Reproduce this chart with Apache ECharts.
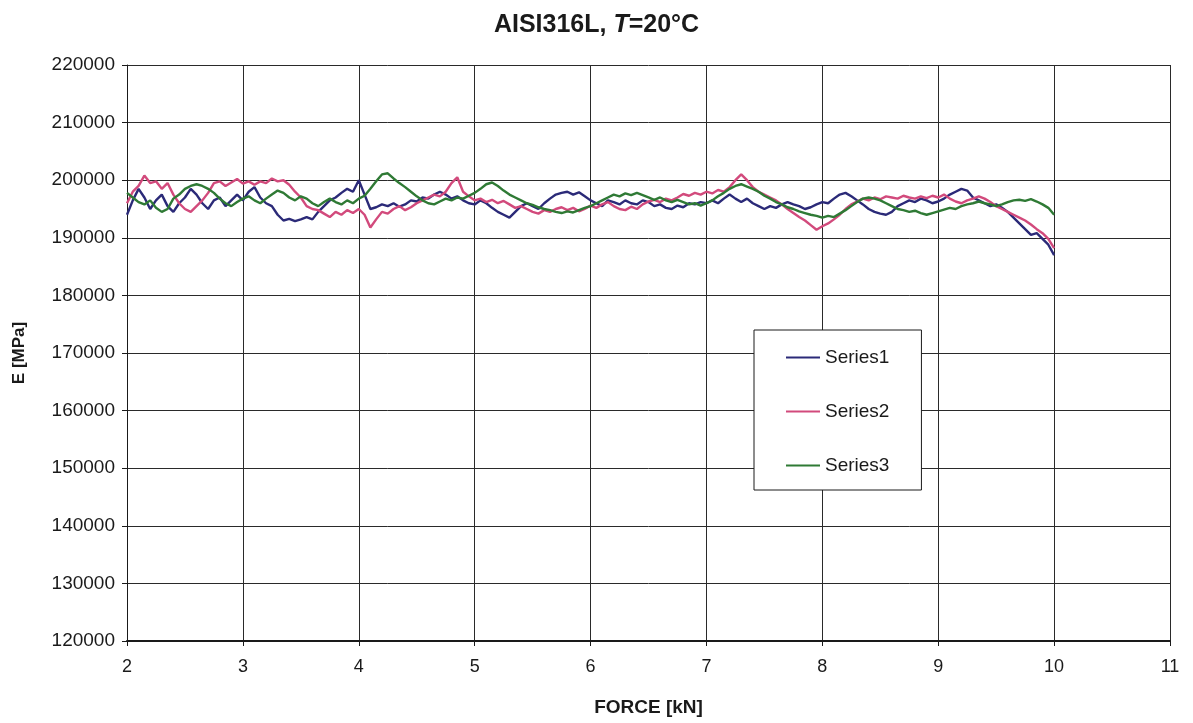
<!DOCTYPE html>
<html>
<head>
<meta charset="utf-8">
<title>AISI316L, T=20°C</title>
<script src="https://cdn.jsdelivr.net/npm/echarts@6/dist/echarts.min.js"></script>
<style>
  html, body { margin: 0; padding: 0; background: #ffffff; }
  #chart { width: 1193px; height: 723px; }
</style>
</head>
<body>
<div id="chart"></div>
<script>
// Force sampling grid [kN], 0.05 kN step from 2 to 10
const force = [
  2.00,2.05,2.10,2.15,2.20,2.25,2.30,2.35,2.40,2.45,2.50,2.55,2.60,2.65,2.70,2.75,2.80,2.85,2.90,2.95,
  3.00,3.05,3.10,3.15,3.20,3.25,3.30,3.35,3.40,3.45,3.50,3.55,3.60,3.65,3.70,3.75,3.80,3.85,3.90,3.95,
  4.00,4.05,4.10,4.15,4.20,4.25,4.30,4.35,4.40,4.45,4.50,4.55,4.60,4.65,4.70,4.75,4.80,4.85,4.90,4.95,
  5.00,5.05,5.10,5.15,5.20,5.25,5.30,5.35,5.40,5.45,5.50,5.55,5.60,5.65,5.70,5.75,5.80,5.85,5.90,5.95,
  6.00,6.05,6.10,6.15,6.20,6.25,6.30,6.35,6.40,6.45,6.50,6.55,6.60,6.65,6.70,6.75,6.80,6.85,6.90,6.95,
  7.00,7.05,7.10,7.15,7.20,7.25,7.30,7.35,7.40,7.45,7.50,7.55,7.60,7.65,7.70,7.75,7.80,7.85,7.90,7.95,
  8.00,8.05,8.10,8.15,8.20,8.25,8.30,8.35,8.40,8.45,8.50,8.55,8.60,8.65,8.70,8.75,8.80,8.85,8.90,8.95,
  9.00,9.05,9.10,9.15,9.20,9.25,9.30,9.35,9.40,9.45,9.50,9.55,9.60,9.65,9.70,9.75,9.80,9.85,9.90,9.95,
  10.00
];

// Young's modulus E [MPa], one array per test run
const series1 = [
  194000,196500,198500,197000,195000,196500,197500,195500,194500,196000,197000,198500,197500,196000,195000,196500,197000,195500,196500,197500,
  196500,198000,198800,197000,196000,195500,194000,193000,193300,192900,193200,193600,193200,194500,195500,196500,197000,197800,198500,198000,
  200000,197500,195000,195300,195800,195500,196000,195400,195800,196500,196300,197000,196800,197500,198000,197500,196800,197200,196500,196000,
  195800,196500,196000,195200,194500,194000,193500,194500,195500,196000,195500,195000,196000,196800,197500,197800,198000,197500,197900,197200,
  196500,196000,195500,196500,196200,195800,196500,196000,195800,196500,196200,195500,195800,195200,195000,195600,195300,196000,195800,196200,
  196000,196500,196000,196800,197500,196800,196200,196800,196000,195500,195000,195500,195200,195800,196200,195800,195500,195000,195300,195800,
  196200,196000,196800,197500,197800,197200,196500,195800,195000,194500,194200,194000,194500,195500,196000,196500,196200,196800,196500,196000,
  196300,196800,197500,198000,198500,198200,197000,196500,196000,195500,195800,195200,194500,193500,192500,191500,190500,190800,189800,188800,
  187000
];

const series2 = [
  196000,198000,199000,200800,199500,199800,198500,199500,197500,196000,195000,194500,195500,196500,197800,199500,199800,199000,199600,200200,
  199400,199800,199200,199800,199500,200300,199800,200000,199200,198000,197000,195500,195000,194800,194200,193600,194500,194000,194800,194300,
  195000,194000,191800,193200,194500,194200,195000,195500,194800,195300,196000,196500,197000,197500,197200,198000,199500,200500,198000,197200,
  196500,196800,196200,196600,196000,196400,195800,195200,195500,195000,194500,194200,194800,194500,195000,195300,194800,195200,194600,195000,
  195600,195200,195800,196200,195500,195000,194800,195400,195000,195800,196300,196600,196200,196800,196500,197000,197600,197300,197800,197500,
  198000,197700,198300,198000,198800,200000,201000,200000,198800,198000,197500,197000,196500,195800,195000,194300,193600,193000,192200,191400,
  192000,192500,193200,194000,195000,195800,196300,196800,196500,197000,196700,197200,197000,196800,197300,197000,196800,197200,196900,197300,
  197000,197500,196800,196300,196000,196500,196800,197200,196800,196200,195500,195000,194500,194000,193500,193000,192300,191500,190800,189800,
  188200
];

const series3 = [
  197800,197000,196200,195800,196500,195200,194500,195000,196800,197500,198500,199000,199300,199000,198500,197800,196800,196000,195500,196200,
  196800,197200,196500,196000,196800,197500,198200,197800,197000,196500,197200,196800,196000,195500,196200,196800,196200,195800,196500,196000,
  196800,197300,198500,199800,201000,201200,200300,199500,198800,198000,197200,196500,196000,195800,196300,196800,196500,197000,196800,197300,
  197800,198500,199300,199600,199000,198200,197500,197000,196500,196000,195700,195300,195000,194800,194500,194300,194600,194400,194800,195200,
  195500,196000,196500,197000,197500,197200,197700,197400,197800,197400,197000,196600,197000,196500,196200,196600,196200,195800,196000,195600,
  196000,196500,197200,197800,198500,199000,199300,198900,198500,198000,197300,196800,196200,195800,195300,195000,194600,194300,194000,193800,
  193500,193800,193600,194200,194800,195500,196200,196800,197000,196800,196500,196000,195500,195000,194800,194500,194700,194300,194000,194300,
  194600,194900,195200,195000,195500,195800,196000,196300,196000,195800,195500,195800,196200,196500,196600,196400,196700,196300,195800,195200,
  194000
];

const seriesNames = ['Series1', 'Series2', 'Series3'];
const seriesColors = ['#2b2a78', '#d24a7c', '#2f7a35'];

const pair = (xs, ys) => xs.map((x, i) => [x, ys[i]]);
const allSeries = [series1, series2, series3];

const chart = echarts.init(document.getElementById('chart'), null, { renderer: 'canvas' });

const textFont = 'Liberation Sans, Arial, sans-serif';

chart.setOption({
  backgroundColor: '#ffffff',
  animation: false,
  textStyle: { fontFamily: textFont, color: '#1a1a1a' },
  title: {
    text: '{b|AISI316L, }{i|T}{b|=20°C}',
    left: 'center',
    top: 8,
    textStyle: {
      rich: {
        b: { fontFamily: textFont, fontWeight: 'bold', fontSize: 25, color: '#1a1a1a' },
        i: { fontFamily: textFont, fontWeight: 'bold', fontStyle: 'italic', fontSize: 25, color: '#1a1a1a' }
      }
    }
  },
  legend: {
    orient: 'vertical',
    left: 754,
    top: 330,
    padding: [18, 32, 15, 32],
    itemGap: 35,
    itemWidth: 34,
    itemHeight: 18,
    backgroundColor: '#ffffff',
    borderColor: '#1a1a1a',
    borderWidth: 1,
    textStyle: { fontFamily: textFont, fontSize: 19, color: '#1a1a1a' },
    data: seriesNames.map(n => ({ name: n, icon: 'path://M0,0 L34,0 L34,2 L0,2 Z' }))
  },
  grid: { left: 127, right: 23, top: 65, bottom: 82, containLabel: false },
  xAxis: {
    type: 'value',
    min: 2,
    max: 11,
    interval: 1,
    name: 'FORCE [kN]',
    nameLocation: 'middle',
    nameGap: 57,
    nameTextStyle: { fontFamily: textFont, fontWeight: 'bold', fontSize: 19, color: '#1a1a1a' },
    axisLine: { show: true, onZero: false, lineStyle: { color: '#1a1a1a', width: 2 } },
    axisTick: { show: true, inside: false, length: 5, lineStyle: { color: '#1a1a1a' } },
    axisLabel: { fontFamily: textFont, fontSize: 18, color: '#1a1a1a', margin: 17 },
    splitLine: { show: true, lineStyle: { color: '#2a2a2a', width: 1 } }
  },
  yAxis: {
    type: 'value',
    min: 120000,
    max: 220000,
    interval: 10000,
    name: 'E [MPa]',
    nameLocation: 'middle',
    nameRotate: 90,
    nameGap: 99,
    nameTextStyle: { fontFamily: textFont, fontWeight: 'bold', fontSize: 17, color: '#1a1a1a' },
    axisLine: { show: true, lineStyle: { color: '#1a1a1a', width: 1 } },
    axisTick: { show: true, inside: false, length: 5, lineStyle: { color: '#1a1a1a' } },
    axisLabel: {
      fontFamily: textFont, fontSize: 19, color: '#1a1a1a', margin: 12,
      formatter: v => String(v)
    },
    splitLine: { show: true, lineStyle: { color: '#2a2a2a', width: 1 } }
  },
  series: allSeries.map((ys, k) => ({
    name: seriesNames[k],
    type: 'line',
    data: pair(force, ys),
    symbol: 'none',
    smooth: false,
    lineStyle: { color: seriesColors[k], width: 2.4 },
    itemStyle: { color: seriesColors[k] },
    z: 3 + k
  }))
});
</script>
</body>
</html>
